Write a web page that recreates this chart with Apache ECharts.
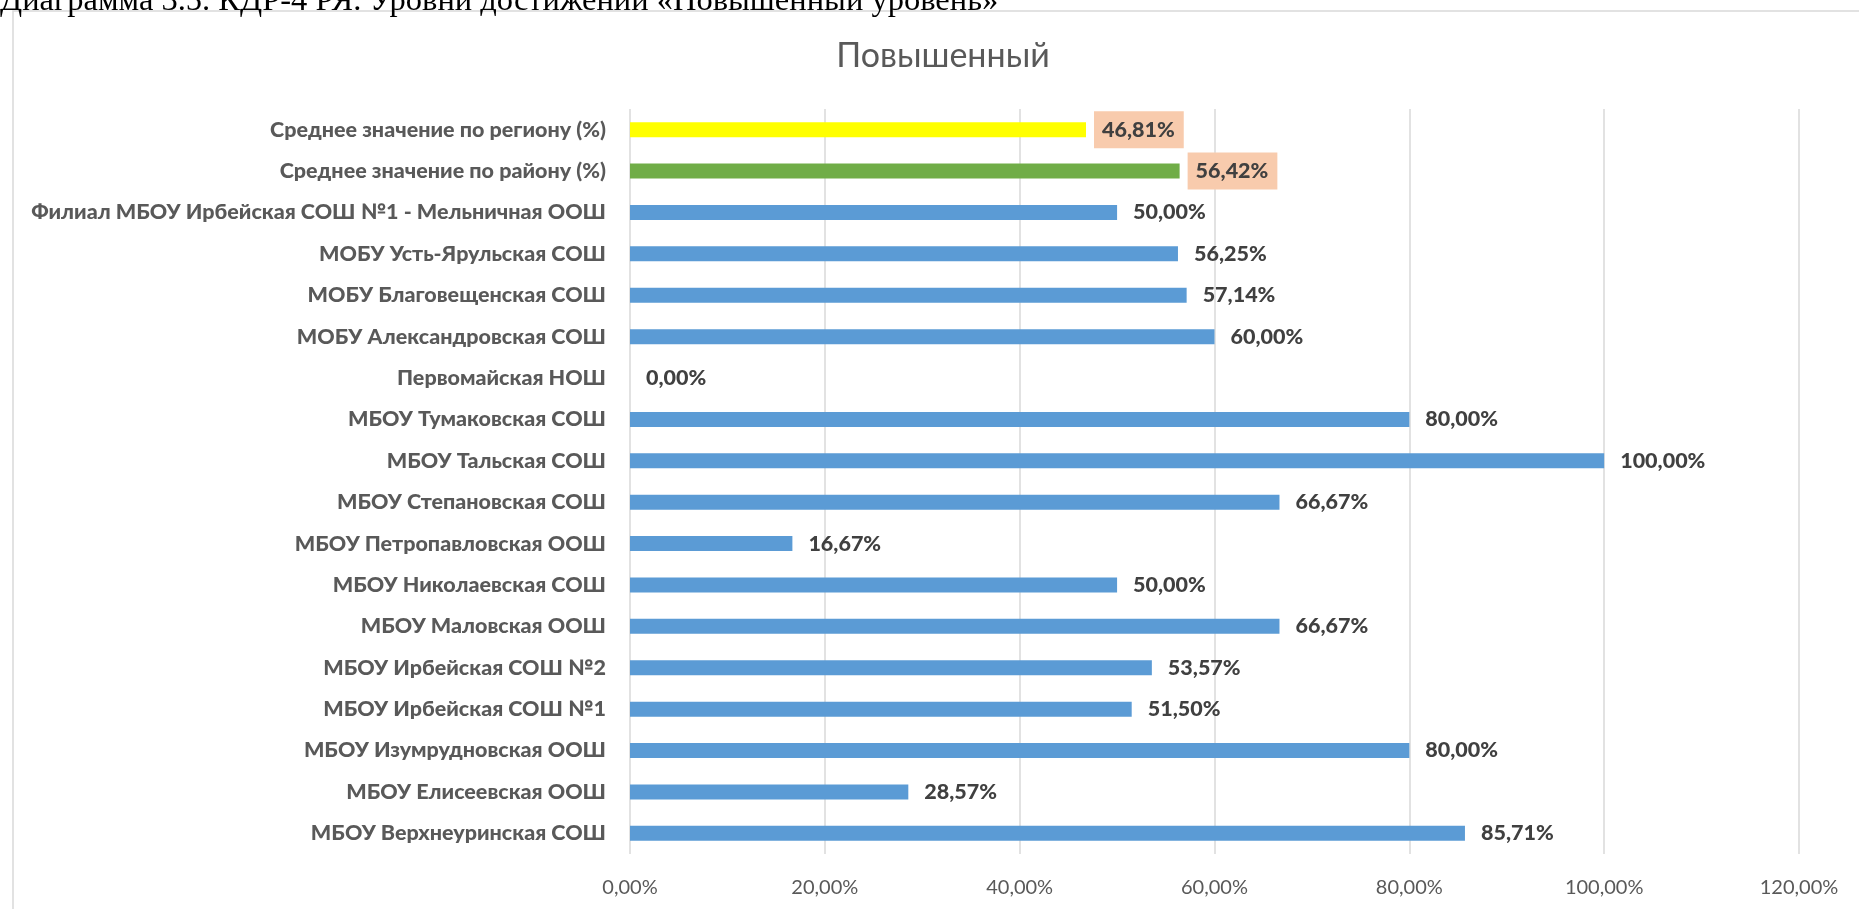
<!DOCTYPE html>
<html>
<head>
<meta charset="utf-8">
<script src="https://cdn.jsdelivr.net/npm/echarts@6/dist/echarts.min.js"></script>
<style>
  html, body { margin: 0; padding: 0; background: #fff; }
  #chart { width: 1859px; height: 909px; }
</style>
</head>
<body>
<div id="chart"></div>
<script>
// categories, bottom to top (as they appear on the y axis)
var schools = [
  'МБОУ Верхнеуринская СОШ',
  'МБОУ Елисеевская ООШ',
  'МБОУ Изумрудновская ООШ',
  'МБОУ Ирбейская СОШ №1',
  'МБОУ Ирбейская СОШ №2',
  'МБОУ Маловская ООШ',
  'МБОУ Николаевская СОШ',
  'МБОУ Петропавловская ООШ',
  'МБОУ Степановская СОШ',
  'МБОУ Тальская СОШ',
  'МБОУ Тумаковская СОШ',
  'Первомайская НОШ',
  'МОБУ Александровская СОШ',
  'МОБУ Благовещенская СОШ',
  'МОБУ Усть-Ярульская СОШ',
  'Филиал МБОУ Ирбейская СОШ №1 - Мельничная ООШ',
  'Среднее значение по району (%)',
  'Среднее значение по региону (%)'
];
var values = [85.71, 28.57, 80.00, 51.50, 53.57, 66.67, 50.00, 16.67, 66.67,
  100.00, 80.00, 0.00, 60.00, 57.14, 56.25, 50.00, 56.42, 46.81];
var axisTicks = [0, 20, 40, 60, 80, 100, 120];
var captionText = 'Диаграмма 3.5. КДР-4 РЯ. Уровни достижений «Повышенный уровень»';
var chartTitle = 'Повышенный';

function pct(v) {
  return v.toFixed(2).replace('.', ',') + '%';
}

var barColor = {
  'Среднее значение по району (%)': '#70AD47',
  'Среднее значение по региону (%)': '#FFFF00'
};

var seriesData = [];
for (var i = 0; i < schools.length; i++) {
  var special = barColor[schools[i]];
  seriesData.push({
    value: values[i],
    itemStyle: { color: special || '#5B9BD5' },
    label: { backgroundColor: special ? '#F8CBAD' : 'transparent' }
  });
}

var myChart = echarts.init(document.getElementById('chart'));
var option = {
  backgroundColor: '#fff',
  animation: false,
  graphic: [
    {
      type: 'rect', z: -1,
      shape: { x: 13, y: 11, width: 1900, height: 1000 },
      style: { fill: 'none', stroke: '#d9d9d9', lineWidth: 1.5 }
    },
    {
      type: 'text', left: 0, top: -15,
      style: {
        text: captionText,
        font: '32.5px "Liberation Serif"',
        fill: '#000'
      }
    },
    {
      type: 'text', x: 943, y: 56,
      style: {
        text: chartTitle,
        font: '34px Lato',
        fill: '#595959',
        align: 'center',
        verticalAlign: 'middle'
      }
    }
  ],
  grid: { left: 630, right: 60, top: 109, bottom: 55 },
  xAxis: {
    type: 'value',
    min: axisTicks[0],
    max: axisTicks[axisTicks.length - 1],
    interval: axisTicks[1] - axisTicks[0],
    axisLine: { show: false },
    axisTick: { show: false },
    splitLine: { lineStyle: { color: '#d9d9d9', width: 1.5 } },
    axisLabel: {
      margin: 24,
      fontFamily: 'Lato',
      fontSize: 20,
      color: '#595959',
      formatter: function (v) { return pct(v); }
    }
  },
  yAxis: {
    type: 'category',
    data: schools,
    axisLine: { show: false },
    axisTick: { show: false },
    axisLabel: {
      margin: 24,
      fontFamily: 'Lato',
      fontWeight: 900,
      fontSize: 21.5,
      color: '#595959'
    }
  },
  series: [{
    type: 'bar',
    barWidth: 15,
    data: seriesData,
    label: {
      show: true,
      position: 'right',
      distance: 8,
      padding: [8, 9, 7, 8],
      fontFamily: 'Lato',
      fontWeight: 900,
      fontSize: 21.5,
      color: '#404040',
      formatter: function (p) { return pct(p.value); }
    }
  }]
};
myChart.setOption(option);
</script>
</body>
</html>
